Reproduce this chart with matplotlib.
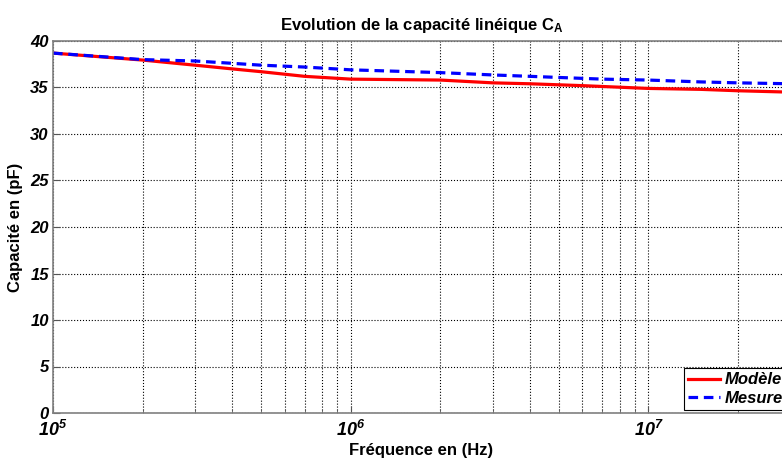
import numpy as np
import matplotlib
matplotlib.use("Agg")
import matplotlib.pyplot as plt
from matplotlib.ticker import FixedLocator, FixedFormatter, LogLocator, NullFormatter

plt.rcParams['font.family'] = ['Liberation Sans', 'DejaVu Sans']
plt.rcParams['mathtext.fontset'] = 'custom'
plt.rcParams['mathtext.rm'] = 'Liberation Sans:bold:italic'
plt.rcParams['mathtext.it'] = 'Liberation Sans:bold:italic'
plt.rcParams['mathtext.sf'] = 'Liberation Sans:bold'

# frequencies (Hz) and capacitances (pF)
freq_modele = [1e5, 2e5, 3e5, 4e5, 5e5, 7e5, 1e6, 2e6, 3e6, 4e6, 6e6, 1e7, 1.5e7, 2e7, 3e7]
cap_modele = [38.7, 37.95, 37.4, 37.0, 36.7, 36.2, 35.9, 35.8, 35.5, 35.4, 35.2, 34.9, 34.8, 34.65, 34.5]

freq_mesure = [1e5, 2e5, 3e5, 4e5, 5e5, 7e5, 1e6, 2e6, 3e6, 4e6, 7e6, 1e7, 1.5e7, 2e7, 3e7]
cap_mesure = [38.7, 38.0, 37.85, 37.6, 37.4, 37.2, 36.9, 36.6, 36.35, 36.2, 35.9, 35.8, 35.6, 35.5, 35.4]

yticks = [0, 5, 10, 15, 20, 25, 30, 35, 40]
xticks = [1e5, 1e6, 1e7]
xticklabels = [r'$10^{5}$', r'$10^{6}$', r'$10^{7}$']

fig = plt.figure(figsize=(7.82, 4.61), dpi=100)
ax = fig.add_axes([53 / 782, 1 - 413 / 461, (790 - 53) / 782, (413 - 41) / 461])

ax.semilogx(freq_modele, cap_modele, color='red', lw=2.3, label='Modèle')
ax.semilogx(freq_mesure, cap_mesure, color='blue', lw=2.3, ls=(0, (3, 1.8)), label='Mesure')

ax.set_xlim(1e5, 10 ** (5 + (790 - 53) / 297.7))
ax.set_ylim(0, 40)
ax.yaxis.set_major_locator(FixedLocator(yticks))
ax.set_yticklabels([str(v) for v in yticks], fontweight='bold', fontstyle='italic', fontsize=12)
ax.xaxis.set_major_locator(FixedLocator(xticks))
ax.xaxis.set_major_formatter(FixedFormatter(xticklabels))
ax.xaxis.set_minor_locator(LogLocator(base=10, subs=np.arange(2, 10), numticks=20))
ax.xaxis.set_minor_formatter(NullFormatter())
for lab in ax.get_xticklabels():
    lab.set_fontsize(13)

ax.tick_params(which='both', direction='in', top=False, right=False, color='#555555')
ax.tick_params(axis='y', which='major', length=5, pad=3)
ax.tick_params(axis='x', which='major', length=5, pad=5)
ax.tick_params(which='minor', length=3)

ax.grid(True, which='major', axis='both', color='black', ls=':', lw=0.8)
ax.grid(True, which='minor', axis='x', color='black', ls=':', lw=0.8)

for s in ax.spines.values():
    s.set_color('#808080')
    s.set_linewidth(1.2)

ax.set_title(r'Evolution de la capacité linéique C$_\mathsf{A}$', fontweight='bold', fontsize=12, pad=8)
ax.set_xlabel('Fréquence en (Hz)', fontweight='bold', fontsize=12, labelpad=2)
ax.set_ylabel('Capacité en (pF)', fontweight='bold', fontsize=12, labelpad=5)

leg = ax.legend(loc='lower left', bbox_to_anchor=((684 - 53) / 737, (413 - 410) / 372),
                prop={'weight': 'bold', 'style': 'italic', 'size': 12},
                fancybox=False, framealpha=1, edgecolor='black', handlelength=1.9,
                handletextpad=0.3, borderpad=0.25, labelspacing=0.2, borderaxespad=0)
leg.get_frame().set_linewidth(0.8)

fig.savefig('out.png', dpi=100)
